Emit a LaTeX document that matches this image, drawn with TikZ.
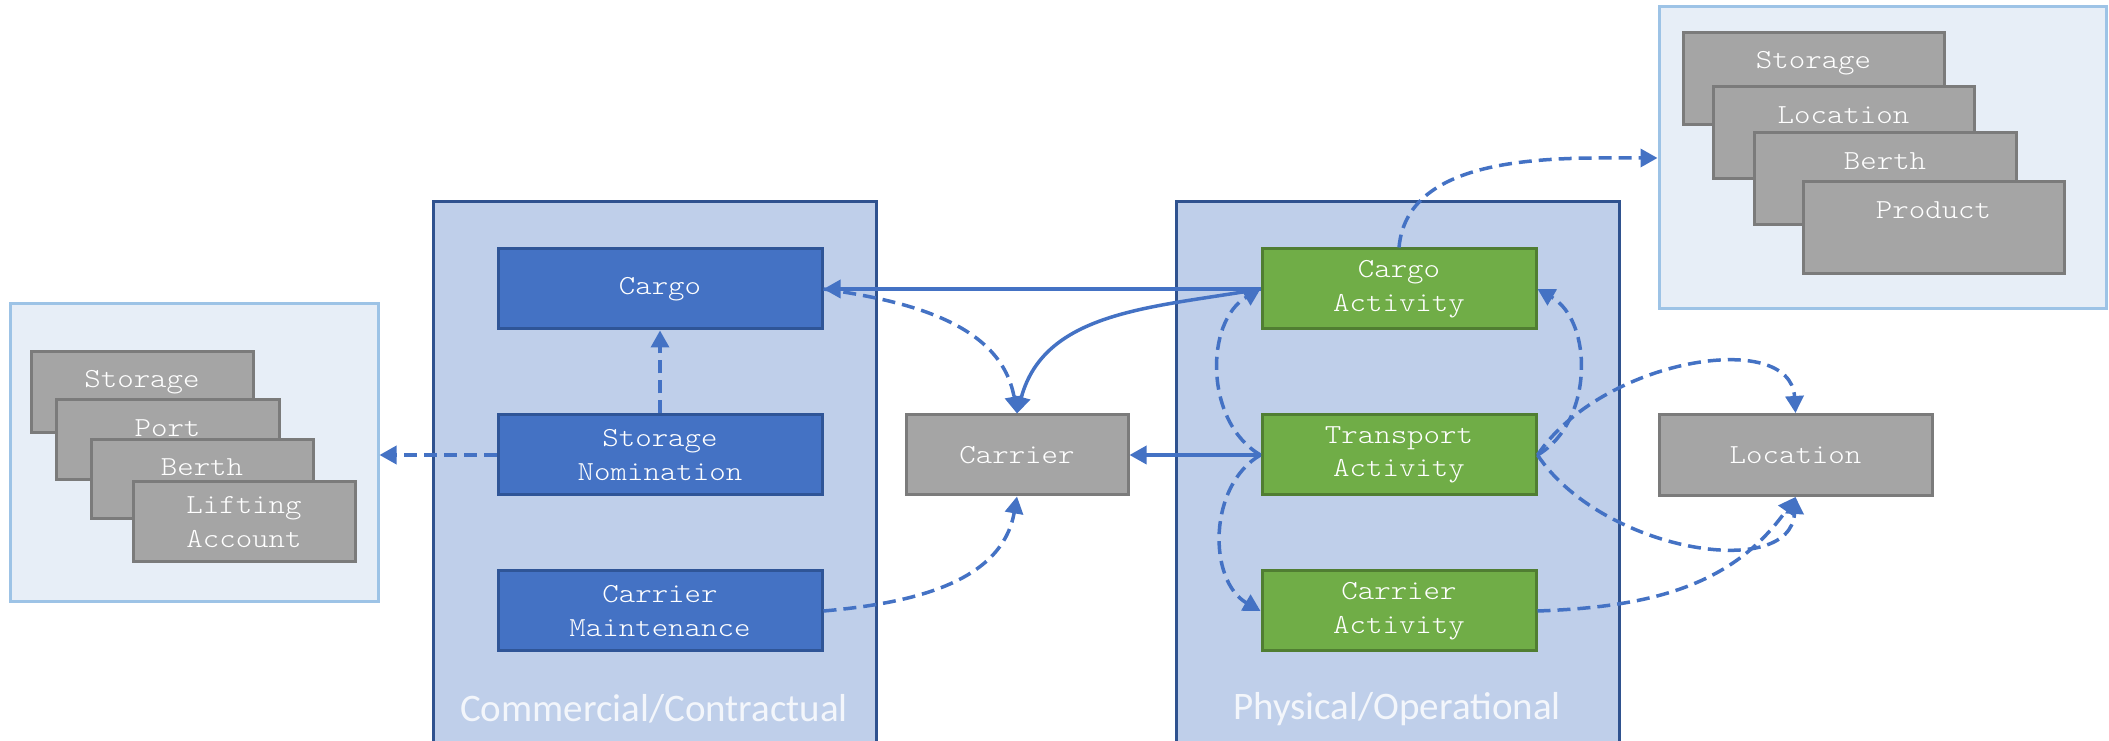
\documentclass[tikz,border=0pt]{standalone}
\usepackage{fontspec}
\setmonofont[FakeStretch=1.14]{lmmonolt10-regular.otf}
\newfontfamily\sectionfam{Carlito}
\usetikzlibrary{arrows.meta}

\definecolor{linkblue}{HTML}{4472C4}
\definecolor{blueedge}{HTML}{2F5597}
\definecolor{greenfill}{HTML}{70AD47}
\definecolor{greenedge}{HTML}{507E32}
\definecolor{greyfill}{HTML}{A5A5A5}
\definecolor{greyedge}{HTML}{7B7B7B}
\definecolor{zonefill}{HTML}{BFCFEA}
\definecolor{zoneedge}{HTML}{2F528F}
\definecolor{groupfill}{HTML}{E7EEF7}
\definecolor{groupedge}{HTML}{9DC3E6}
\definecolor{zonetext}{HTML}{F3F6FB}

\newcommand{\diagboxfont}{\fontsize{27.5}{33.5}\selectfont\ttfamily}

\begin{document}
\begin{tikzpicture}[x=1pt,y=1pt,
  box/.style={line width=3pt, inner sep=0pt, text=white, align=center,
    font=\diagboxfont},
  bluebox/.style={box, fill=linkblue, draw=blueedge,
    minimum width=324pt, minimum height=80pt},
  greenbox/.style={box, fill=greenfill, draw=greenedge,
    minimum width=274pt, minimum height=80pt},
  greybox/.style={box, fill=greyfill, draw=greyedge},
  zone/.style={fill=zonefill, draw=zoneedge, line width=3pt,
    minimum width=443pt, minimum height=558pt, inner sep=0pt},
  group/.style={fill=groupfill, draw=groupedge, line width=3pt, inner sep=0pt},
  zonelabel/.style={text=zonetext, font=\fontsize{39}{45}\selectfont\sectionfam},
  toptext/.style={anchor=center, text=white, font=\diagboxfont},
  link/.style={draw=linkblue, line width=3.5pt,
    -{Triangle[length=17pt,width=18pt]}},
  dlink/.style={link, dash pattern=on 13pt off 7pt},
]
\useasboundingbox (0,0) rectangle (2109,741);

% zones
\node[zone] (commercial) at (654.5,260) {};
\node[zone] (physical) at (1398,260) {};
\node[zonelabel] (commlabel) at (654,32) {Commercial/Contractual};
\node[zonelabel] (physlabel) at (1397,32) {Physical/Operational};

% left group of reference data
\node[group, minimum width=368pt, minimum height=298pt] (lbox) at (194,288) {};
\node[greybox, minimum width=222pt, minimum height=81pt,
  label={[toptext,yshift=-32pt]north:Storage}] (lstorage) at (142,348.5) {};
\node[greybox, minimum width=223pt, minimum height=80pt,
  label={[toptext,yshift=-30pt]north:Port}] (lport) at (167.5,301) {};
\node[greybox, minimum width=222pt, minimum height=79pt,
  label={[toptext,yshift=-29pt]north:Berth}] (lberth) at (202,261.5) {};
\node[greybox, minimum width=222pt, minimum height=80pt] (llift) at (244,219)
  {Lifting\\Account};

% right group of reference data
\node[group, minimum width=447pt, minimum height=302pt] (rbox) at (1882.5,583) {};
\node[greybox, minimum width=261pt, minimum height=92pt,
  label={[toptext,yshift=-32pt]north:Storage}] (rstorage) at (1813.5,662) {};
\node[greybox, minimum width=261pt, minimum height=92pt,
  label={[toptext,yshift=-30pt]north:Location}] (rlocation) at (1843.5,608) {};
\node[greybox, minimum width=262pt, minimum height=92pt,
  label={[toptext,yshift=-30pt]north:Berth}] (rberth) at (1885,562) {};
\node[greybox, minimum width=261pt, minimum height=92pt,
  label={[toptext,yshift=-30pt]north:Product}] (rproduct) at (1933.5,513) {};

% commercial entities
\node[bluebox] (cargo) at (660,452) {Cargo};
\node[bluebox] (nomination) at (660,286) {Storage\\Nomination};
\node[bluebox] (maintenance) at (660,130) {Carrier\\Maintenance};

% physical entities
\node[greenbox] (cargoact) at (1399,452) {Cargo\\Activity};
\node[greenbox] (transportact) at (1399,286) {Transport\\Activity};
\node[greenbox] (carrieract) at (1399,130) {Carrier\\Activity};

% shared entities
\node[greybox, minimum width=222pt, minimum height=80pt] (carrier) at (1017,286) {Carrier};
\node[greybox, minimum width=273pt, minimum height=81pt] (location) at (1795.5,286) {Location};

% connectors
\draw[link] (cargoact.west) -- (cargo.east);
\draw[link] (cargoact.west) to[out=190,in=75] (carrier.north);
\draw[dlink] (cargo.east) to[out=-8,in=100] (carrier.north);
\draw[link] (transportact.west) -- (carrier.east);
\draw[dlink] (maintenance.east) to[out=5,in=-100] (carrier.south);
\draw[dlink] (nomination.north) -- (cargo.south);
\draw[dlink] (nomination.west) -- (nomination.west -| lbox.east);
\draw[dlink] (transportact.west) to[out=150,in=210] (cargoact.west);
\draw[dlink] (transportact.west) to[out=210,in=150] (carrieract.west);
\draw[dlink] (transportact.east) to[out=30,in=-30] (cargoact.east);
\draw[dlink] (transportact.east) .. controls +(64,96) and +(-5,85) .. (location.north);
\draw[dlink] (transportact.east) .. controls +(64,-96) and +(-5,-85) .. (location.south);
\draw[dlink] (carrieract.east) to[out=2,in=-125] (location.south);
\draw[dlink] (cargoact.north) to[out=85,in=180,looseness=0.9] (rbox.west);
\end{tikzpicture}
\end{document}
